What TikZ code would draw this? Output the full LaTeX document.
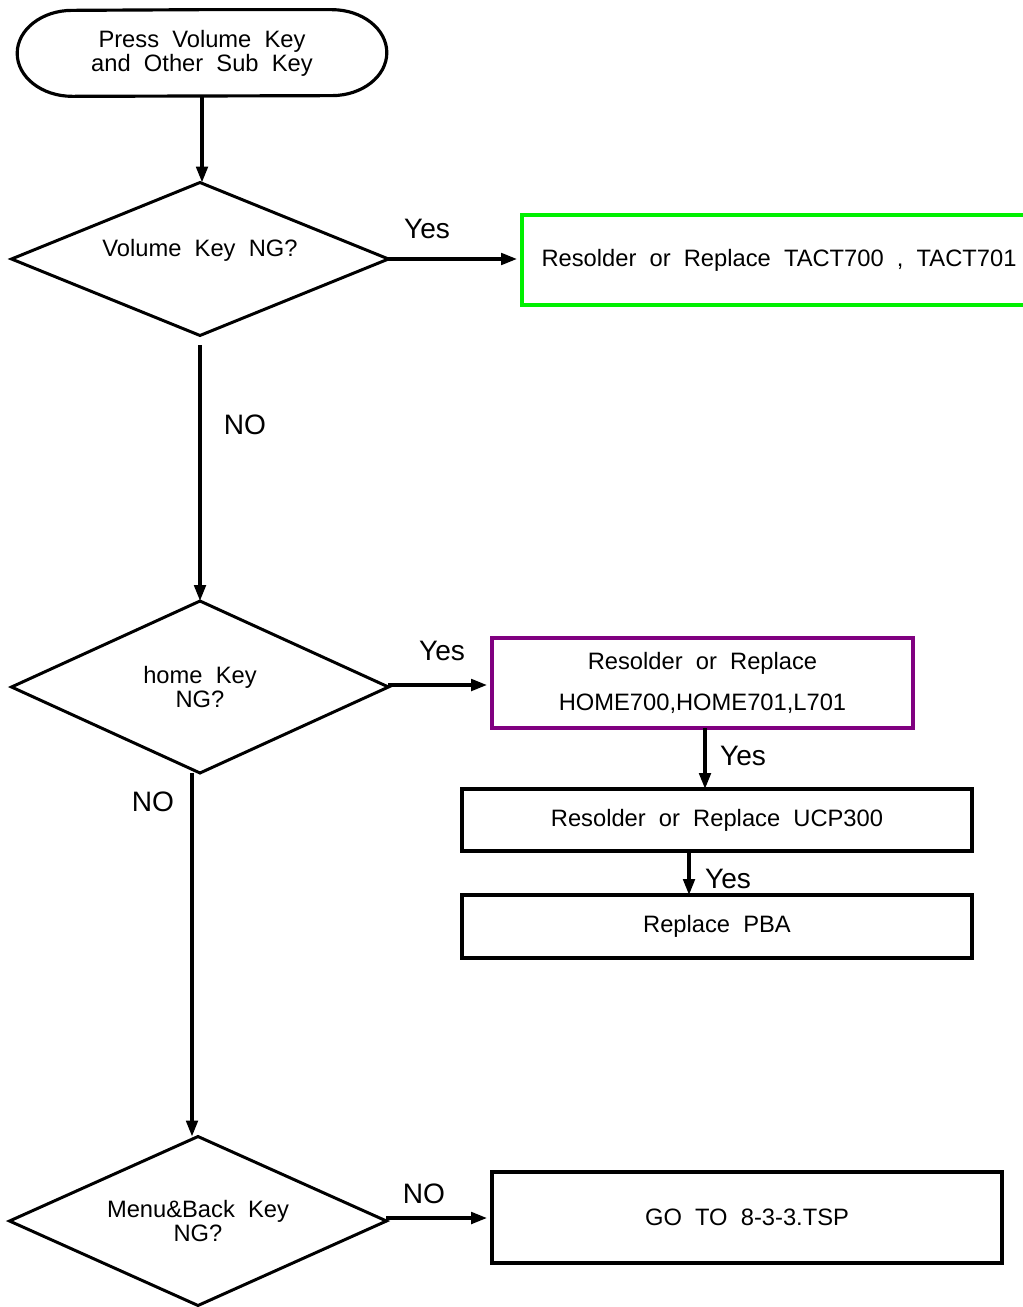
\documentclass[tikz,border=0pt]{standalone}
\usepackage{fontspec}
\setmainfont{Liberation Sans}[WordSpace=2]
\usetikzlibrary{shapes.geometric,arrows.meta}

\definecolor{boxgreen}{RGB}{0,240,0}
\definecolor{boxpurple}{RGB}{128,0,128}

\tikzset{
  flow/.style={line width=1.9pt, -{Triangle[length=9pt,width=6.5pt]}},
  boxtext/.style={font=\fontsize{13.5}{13.6}\selectfont, align=center},
  decision/.style={boxtext, draw, line width=1.7pt, diamond, shape aspect=2.5, inner sep=0pt, outer sep=0pt, minimum width=7.54cm},
  process/.style={boxtext, draw, line width=2pt, rectangle, inner sep=0pt, outer sep=0pt},
  answer/.style={inner sep=0pt, font=\fontsize{16}{18}\selectfont},
}

\begin{document}
\begin{tikzpicture}[x=0.02cm, y=-0.02cm]
    \useasboundingbox (0,0) rectangle (1022,1307);

    % Start
    \node[boxtext, minimum width=7.38cm, minimum height=1.72cm, inner sep=0pt] (start) at (202,53) {Press Volume Key\\and Other Sub Key};
    \draw[line width=1.8pt] (start.north) -- ([xshift=-1.1cm]start.north east)
        arc[start angle=90, end angle=-90, x radius=1.1cm, y radius=0.86cm]
        -- ([xshift=1.1cm]start.south west)
        arc[start angle=270, end angle=90, x radius=1.1cm, y radius=0.86cm] -- cycle;

    % Decisions
    \node[decision, minimum height=3.06cm, text height=0.34cm, text depth=0.46cm] (volume) at (200,259) {Volume Key NG?};
    \node[decision, minimum height=3.44cm] (home) at (200,687) {home Key\\NG?};
    \node[decision, minimum height=3.38cm] (menu) at (198,1221) {Menu\&Back Key\\NG?};

    % Actions
    \node[process, draw=boxgreen, minimum width=10.28cm, minimum height=1.8cm] (tact) at (779,260) {Resolder or Replace TACT700 , TACT701};
    \node[process, draw=boxpurple, minimum width=8.42cm, minimum height=1.8cm] (homefix) at (702.5,683) {Resolder or Replace\\[10.2pt]HOME700,HOME701,L701};
    \node[process, minimum width=10.2cm, minimum height=1.24cm] (ucp) at (717,820) {Resolder or Replace UCP300};
    \node[process, minimum width=10.2cm, minimum height=1.26cm] (pba) at (717,926.5) {Replace PBA};
    \node[process, minimum width=10.2cm, minimum height=1.82cm] (goto) at (747,1217.5) {GO TO 8-3-3.TSP};

    % Connectors
    \draw[flow] (start.south) -- (start.south |- volume.north);
    \draw[flow, shorten >=0.1cm] (volume.east) -- (volume.east -| tact.west);
    \draw[flow, shorten <=0.2cm] (volume.south) -- (home.north);
    \draw[flow, shorten >=0.1cm] ([yshift=0.04cm]home.east) -- ([yshift=0.04cm]home.east -| homefix.west);
    \draw[flow] ([xshift=0.05cm]homefix.south) -- ([xshift=0.05cm]homefix.south |- ucp.north);
    \draw[flow] ([xshift=-0.56cm]ucp.south) -- ([xshift=-0.56cm]ucp.south |- pba.north);
    \draw[flow] ([xshift=-0.16cm]home.south) -- ([xshift=-0.16cm]home.south |- menu.north);
    \draw[flow, shorten >=0.1cm] ([yshift=0.06cm]menu.east) -- ([yshift=0.06cm]menu.east -| goto.west);

    % Labels
    \node[answer] (yes1) at (427,229) {Yes};
    \node[answer] (no1) at (245,425) {NO};
    \node[answer] (yes2) at (442,651) {Yes};
    \node[answer] (yes3) at (743,756) {Yes};
    \node[answer] (yes4) at (728,879) {Yes};
    \node[answer] (no2) at (153,802) {NO};
    \node[answer] (no3) at (424,1194) {NO};
\end{tikzpicture}
\end{document}
